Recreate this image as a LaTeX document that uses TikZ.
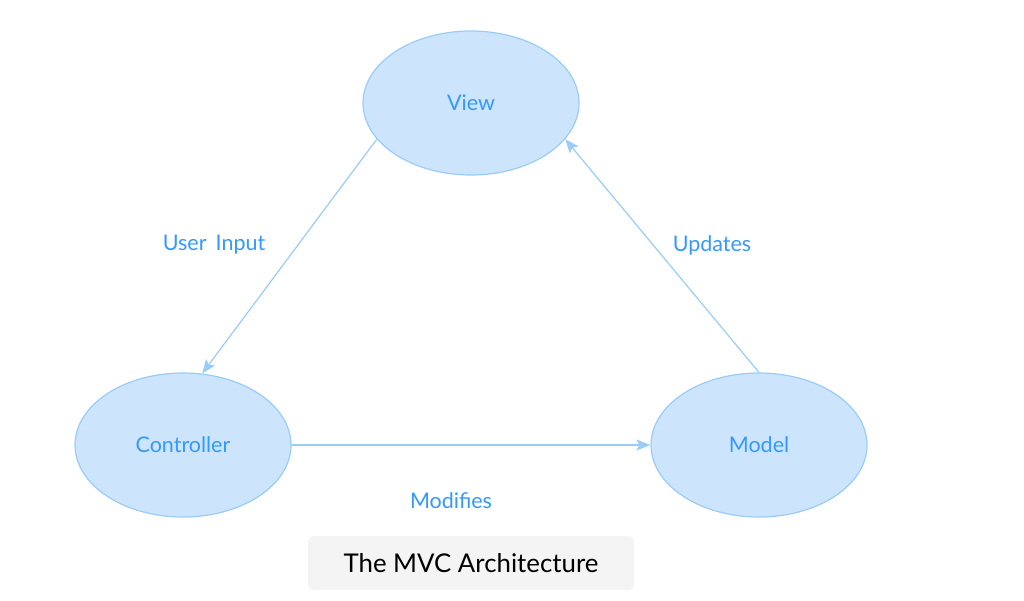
\documentclass[tikz,border=0pt]{standalone}
\usepackage{fontspec}
\setmainfont{Lato}
\usetikzlibrary{shapes.geometric,arrows.meta}
\definecolor{mvcfill}{HTML}{CCE5FC}
\definecolor{mvcline}{HTML}{99CCF8}
\definecolor{mvctext}{HTML}{3399FF}
\definecolor{capfill}{HTML}{F4F4F4}
\begin{document}
\begin{tikzpicture}
                [
                x=1pt,y=-1pt,
                part/.style={ellipse,draw=mvcline,fill=mvcfill,line width=1.2pt,
                    minimum width=216pt,minimum height=144pt,inner sep=0pt,
                    text=mvctext,font=\fontsize{21.5}{24}\selectfont},
                flow/.style={draw=mvcline,line width=1.2pt,
                    -{Stealth[length=14pt,width=11pt,inset=3pt]}},
                tag/.style={text=mvctext,font=\fontsize{21.5}{24}\selectfont}
                ]
            \useasboundingbox (0,0) rectangle (1024,600);
            \node[part] (view) at (471,103) {View};
            \node[part] (ctrl) at (183,445) {Controller};
            \node[part] (model) at (759,445) {Model};
            \draw[flow] (view.201) -- (ctrl.75);
            \draw[flow] (model.north) -- (view.339);
            \draw[flow] (ctrl.east) -- (model.west);
            \node[tag] (input) at (214,245) {User\ \,Input};
            \node[tag] (upd) at (712,245) {Updates};
            \node[tag] (mod) at (451,501) {Modifies};
            \node[fill=capfill,rounded corners=5pt,minimum width=326pt,minimum height=54pt,
                font=\fontsize{25.8}{30}\selectfont] (title) at (471,563) {The MVC Architecture};
            \end{tikzpicture}
\end{document}
